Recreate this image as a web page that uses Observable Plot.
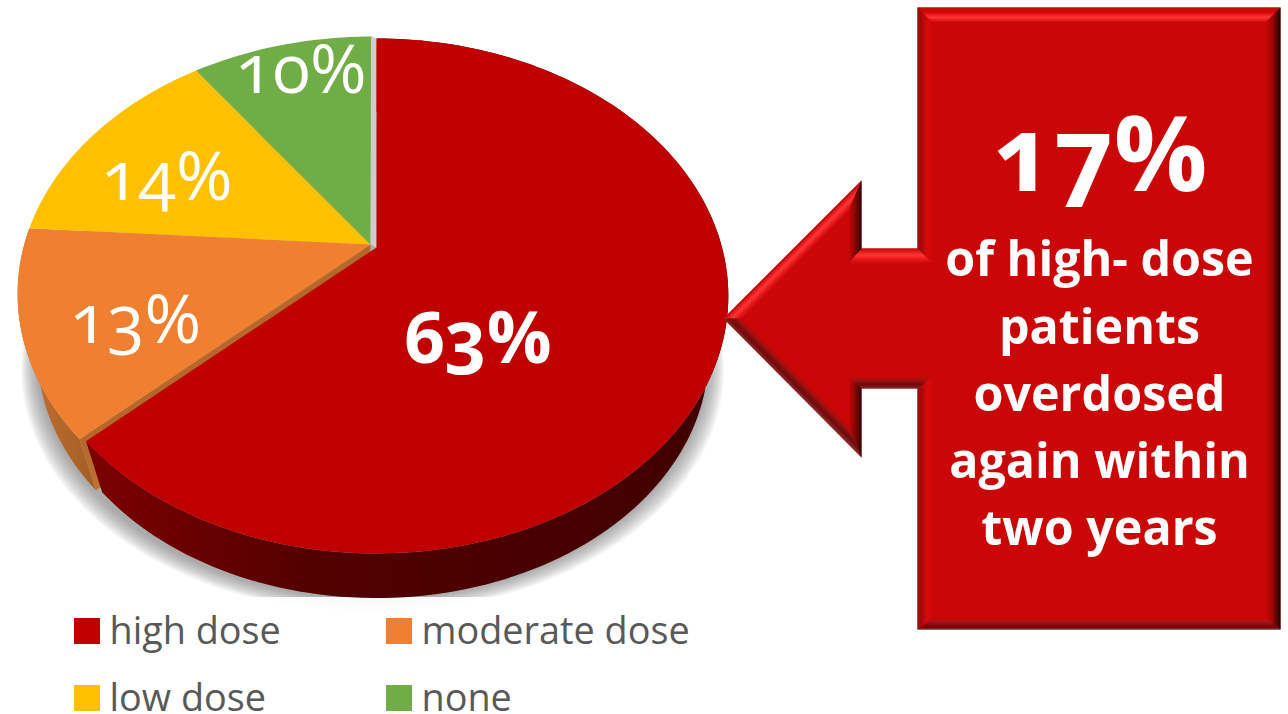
<!DOCTYPE html>
<html><head><meta charset="utf-8">
<script src="https://cdn.jsdelivr.net/npm/d3@7"></script>
<script src="https://cdn.jsdelivr.net/npm/@observablehq/plot@0.6"></script>
<style>html,body{margin:0;padding:0;background:#fff;overflow:hidden}svg{display:block}</style>
</head><body><div id="chart"></div>
<script>
// ---- data ----
const categories = ["high dose", "moderate dose", "low dose", "none"];
const shares = [63, 13, 14, 10];
const sliceColors = ["#c00000", "#f08030", "#ffc000", "#70ad47"];
const calloutFigure = "17%";
const calloutLines = ["of high- dose", "patients", "overdosed", "again within", "two years"];

// ---- layout ----
const FONT = "'Open Sans', sans-serif";
const labelX = [477, 135, 166.5, 300.5];
const labelY = [362, 342, 199, 92];
const labelSize = [72, 68, 69, 69];
const legendX = [74, 386, 74, 386];
const legendY = [631, 631, 698, 698];
const calloutBaselines = [275, 343, 410, 477, 544];
const shadowLayers = d3.range(1, 15);

// perspective disc: circle point -> screen
const disc = {a: 199.55, b: 245, c: -0.196};
function rim(t, cx, A, dy = 0) {
  const th = t * 2 * Math.PI, u = Math.sin(th), v = -Math.cos(th), w = 1 + disc.c * v;
  return [cx + A * u / w, (disc.b + disc.a * v) / w + dy];
}
const lower = ([x, y]) => [373 + 0.944 * (x - 373), 1350 + 0.944 * (y - 1350)];
function arc(t0, t1, cx, A, dy = 0) {
  const n = Math.max(2, Math.ceil((t1 - t0) * 240)), pts = [];
  for (let i = 0; i <= n; i++) pts.push(rim(t0 + (t1 - t0) * i / n, cx, A, dy));
  return pts;
}
const total = d3.sum(shares);
const ends = d3.cumsum(shares).map(d => d / total);
const starts = [0, ...ends.slice(0, -1)];

const redCx = 376, redA = 345, baseCx = 372, baseA = 348, baseDy = -2;
const apexRest = [370, 244], apexRed = [376, 247];

const slices = categories.flatMap((category, i) => {
  const rimPts = i === 0 ? arc(starts[i], ends[i], redCx, redA) : arc(starts[i], ends[i], baseCx, baseA, baseDy);
  return [i === 0 ? apexRed : apexRest, ...rimPts].map(p => ({category, x: p[0], y: p[1]}));
});
const wall = (i, cx, A, dy = 0) => {
  const top = arc(starts[i], ends[i], cx, A, dy);
  return [...top, ...top.map(lower).reverse()];
};

// ---- helpers ----
const poly = (pts, fill, opts = {}) => Plot.line(pts, {x: d => d[0], y: d => d[1], fill, stroke: "none", curve: "linear", ...opts});
const grad = (id, x1, y1, x2, y2, stops) =>
  `<linearGradient id="${id}" gradientUnits="userSpaceOnUse" x1="${x1}" y1="${y1}" x2="${x2}" y2="${y2}">` +
  stops.map(([o, c]) => `<stop offset="${o}" stop-color="${c}"/>`).join("") + `</linearGradient>`;
const BODY = "#cb0606";
const hi = [[0, "#c40808"], [.45, "#ff3535"], [.7, "#e81a1a"], [1, BODY]];
const lo = [[0, "#8a2a2a"], [.3, "#6a0a0a"], [.7, "#a01212"], [1, BODY]];
const sideDark = [[0, BODY], [.5, "#8a0505"], [1, "#2a0606"]];
const defsHtml = [
  grad("wallRed", 90, 0, 730, 0, [[0, "#7c0000"], [.35, "#520000"], [1, "#400000"]]),
  grad("wallOrange", 30, 0, 105, 0, [[0, "#c07030"], [1, "#a05a22"]]),
  grad("cutOrange", 82, 440, 100, 490, [[0, "#b5682a"], [1, "#c07430"]]),
  grad("boxTop", 0, 7, 0, 22, [[0, "#c00a0a"], [.3, "#d40606"], [.65, "#ff3535"], [1, BODY]]),
  grad("boxBottom", 0, 617, 0, 629, [[0, BODY], [.4, "#a01515"], [.8, "#640808"], [1, "#8a3030"]]),
  grad("boxLeft", 917, 0, 932, 0, [[0, "#8a1515"], [.25, "#a80808"], [.65, "#d80a0a"], [1, BODY]]),
  grad("boxRight", 1265, 0, 1280, 0, [[0, BODY], [.45, "#a00505"], [.8, "#4a0505"], [1, "#240404"]]),
  grad("arTop", 792, 249, 801.5, 258.5, hi),
  grad("arBottom", 792, 387, 801.5, 377.5, lo),
  grad("arHeadU", 848, 0, 861, 0, sideDark),
  grad("arHeadL", 848, 0, 861, 0, sideDark),
  grad("shaftTop", 0, 248, 0, 263, hi),
  grad("shaftBottom", 0, 388, 0, 376, lo)
].join("");
const defsMark = () => {
  const g = document.createElementNS("http://www.w3.org/2000/svg", "defs");
  g.innerHTML = defsHtml;
  return g;
};

// ---- callout geometry ----
const box = {l: 917, r: 1280, t: 7, b: 629, il: 932, ir: 1265, it: 22, ib: 617};
const arrow = {tipX: 723, tipY: 318, headX: 861, headT: 180, headB: 457, shT: 248, shB: 388, inX: 848, inTip: 742};
const boxOutline = [[box.l, box.t], [box.r, box.t], [box.r, box.b], [box.l, box.b]];
const arrowOutline = [[arrow.tipX, arrow.tipY], [arrow.headX, arrow.headT], [arrow.headX, arrow.shT], [box.l + 1, arrow.shT],
  [box.l + 1, arrow.shB], [arrow.headX, arrow.shB], [arrow.headX, arrow.headB]];

const chart = Plot.plot({
  width: 1288, height: 714, margin: 0,
  style: {background: "#fff", fontFamily: FONT, overflow: "hidden", fontVariantNumeric: "oldstyle-nums"},
  x: {domain: [0, 1288], range: [0, 1288], axis: null},
  y: {domain: [0, 714], range: [0, 714], axis: null},
  color: {domain: categories, range: sliceColors},
  marks: [
    defsMark,
    // soft shadow below the pie: stacked translucent rings
    shadowLayers.map(k => poly(arc(0, 1, baseCx, baseA * (1 + 0.0035 * k), k * 1.1).map(lower), "#666", {fillOpacity: 0.055})),
    Plot.rect([0], {x1: 0, x2: 760, y1: 597, y2: 714, fill: "#fff", fillOpacity: 0.93}),
    // side walls
    poly(wall(1, baseCx, baseA, baseDy), "url(#wallOrange)"),
    poly([apexRest, rim(ends[0], baseCx, baseA, baseDy), lower(rim(ends[0], baseCx, baseA, baseDy)), lower(apexRest)], "url(#cutOrange)"),
    poly(wall(0, redCx, redA), "url(#wallRed)"),
    // slices, resting ones first, red on top
    Plot.line(slices.filter(d => d.category !== categories[0]), {x: "x", y: "y", z: "category", fill: "category", stroke: "none"}),
    poly([[370.5, 36], [376, 38], [376, 247], apexRest], "#cdcdcd"),
    Plot.line(slices.filter(d => d.category === categories[0]), {x: "x", y: "y", z: "category", fill: "category", stroke: "none"}),
    // value labels
    Plot.text(categories.slice(0, 1), {
      x: (d, i) => labelX[i], y: (d, i) => labelY[i], text: (d, i) => `${shares[i]}%`,
      fill: "#fff", fontSize: labelSize[0], fontWeight: 700, lineAnchor: "bottom", textAnchor: "middle"
    }),
    Plot.text(categories.slice(1), {
      x: (d, i) => labelX[i + 1], y: (d, i) => labelY[i + 1], text: (d, i) => `${shares[i + 1]}%`,
      fill: "#fff", fontSize: 68.5, fontWeight: 400, lineAnchor: "bottom", textAnchor: "middle"
    }),
    // callout box + arrow
    poly(boxOutline, BODY),
    poly(arrowOutline, BODY),
    poly([[box.l, box.t], [box.r, box.t], [box.ir, box.it], [box.il, box.it]], "url(#boxTop)"),
    poly([[box.l, box.b], [box.r, box.b], [box.ir, box.ib], [box.il, box.ib]], "url(#boxBottom)"),
    poly([[box.l, box.t], [box.il, box.it], [box.il, arrow.shT + 15], [box.l, arrow.shT]], "url(#boxLeft)"),
    poly([[box.l, arrow.shB], [box.il, arrow.shB - 12], [box.il, box.ib], [box.l, box.b]], "url(#boxLeft)"),
    poly([[box.r, box.t], [box.ir, box.it], [box.ir, box.ib], [box.r, box.b]], "url(#boxRight)"),
    poly([[arrow.tipX, arrow.tipY], [arrow.headX, arrow.headT], [arrow.inX, 210], [arrow.inTip, arrow.tipY]], "url(#arTop)"),
    poly([[arrow.tipX, arrow.tipY], [arrow.headX, arrow.headB], [arrow.inX, 425], [arrow.inTip, arrow.tipY]], "url(#arBottom)"),
    poly([[arrow.headX, arrow.headT], [arrow.headX, arrow.shT], [arrow.inX, arrow.shT + 15], [arrow.inX, 210]], "url(#arHeadU)"),
    poly([[arrow.headX, arrow.headB], [arrow.headX, arrow.shB], [arrow.inX, arrow.shB - 12], [arrow.inX, 425]], "url(#arHeadL)"),
    poly([[arrow.headX, arrow.shT], [box.l, arrow.shT], [box.il, arrow.shT + 15], [arrow.inX, arrow.shT + 15]], "url(#shaftTop)"),
    poly([[arrow.headX, arrow.shB], [box.l, arrow.shB], [box.il, arrow.shB - 12], [arrow.inX, arrow.shB - 12]], "url(#shaftBottom)"),
    // callout text
    Plot.text([calloutFigure], {x: 1100, y: 190, text: d => d, fill: "#fff", fontSize: 104, fontWeight: 700, lineAnchor: "bottom", textAnchor: "middle"}),
    Plot.text(calloutLines, {x: 1099, y: (d, i) => calloutBaselines[i], text: d => d, fill: "#fff", fontSize: 48.4, fontWeight: 700, lineAnchor: "bottom", textAnchor: "middle"}),
    // legend
    Plot.rect(categories, {x1: (d, i) => legendX[i], x2: (d, i) => legendX[i] + 26, y1: (d, i) => legendY[i] - 13, y2: (d, i) => legendY[i] + 13, fill: d => d}),
    Plot.text(categories, {x: (d, i) => legendX[i] + 35, y: (d, i) => legendY[i], text: d => d, fill: "#595959", fontSize: 37.8, textAnchor: "start"})
  ]
});
document.getElementById("chart").append(chart);
</script></body></html>
